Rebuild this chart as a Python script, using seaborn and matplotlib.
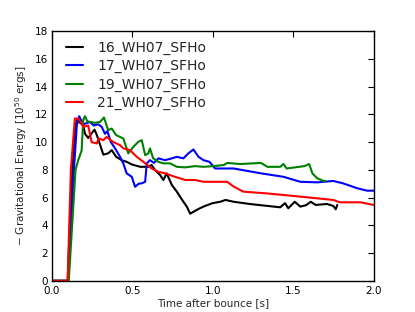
import matplotlib
matplotlib.use("Agg")
import matplotlib.pyplot as plt
import seaborn as sns
import pandas as pd

labels = ["16_WH07_SFHo", "17_WH07_SFHo", "19_WH07_SFHo", "21_WH07_SFHo"]
colors = ["#000000", "#0000ff", "#008000", "#ff0000"]

t16 = [0, 0.098, 0.127, 0.145, 0.155, 0.175, 0.195, 0.206, 0.226, 0.245, 0.265, 0.28, 0.30, 0.32,
       0.35, 0.372, 0.40, 0.434, 0.465, 0.497, 0.55, 0.60, 0.62, 0.642, 0.673, 0.693, 0.714, 0.746,
       0.777, 0.797, 0.818, 0.839, 0.86, 0.89, 0.92, 0.953, 1.0, 1.047, 1.08, 1.13, 1.23, 1.34,
       1.42, 1.45, 1.47, 1.51, 1.545, 1.58, 1.61, 1.64, 1.71, 1.75, 1.765, 1.775]
e16 = [0, 0, 8.0, 11.0, 11.6, 11.4, 11.2, 10.6, 10.3, 10.6, 10.9, 10.5, 9.8, 9.1,
       9.19, 9.42, 8.94, 8.7, 8.58, 8.39, 8.22, 8.22, 8.35, 7.98, 7.63, 7.27, 7.75, 6.91,
       6.43, 6.07, 5.7, 5.35, 4.84, 5.04, 5.23, 5.4, 5.6, 5.7, 5.83, 5.7, 5.54, 5.4,
       5.3, 5.6, 5.23, 5.7, 5.35, 5.45, 5.7, 5.47, 5.54, 5.4, 5.16, 5.47]

t17 = [0, 0.10, 0.137, 0.155, 0.17, 0.185, 0.2, 0.237, 0.26, 0.288, 0.31, 0.33, 0.345, 0.366,
       0.393, 0.424, 0.444, 0.465, 0.497, 0.517, 0.54, 0.559, 0.58, 0.59, 0.61, 0.635, 0.662,
       0.704, 0.746, 0.777, 0.818, 0.849, 0.88, 0.912, 0.943, 0.98, 1.015, 1.13, 1.3, 1.44,
       1.545, 1.65, 1.69, 1.75, 1.81, 1.9, 1.96, 2.0]
e17 = [0, 0, 8.0, 11.2, 11.87, 11.5, 11.3, 11.46, 11.2, 11.29, 11.1, 10.6, 10.8, 10.02,
       9.55, 8.94, 8.47, 7.75, 7.5, 6.78, 7.0, 7.03, 7.14, 8.47, 8.7, 8.5, 8.83,
       8.7, 8.83, 8.94, 8.83, 9.19, 9.47, 8.94, 8.7, 8.58, 8.1, 8.1, 7.75, 7.5,
       7.14, 7.1, 7.14, 7.2, 7.03, 6.67, 6.5, 6.5]

t19 = [0, 0.105, 0.147, 0.164, 0.185, 0.195, 0.206, 0.22, 0.237, 0.268, 0.30, 0.324, 0.35,
       0.372, 0.40, 0.444, 0.475, 0.507, 0.537, 0.559, 0.58, 0.60, 0.61, 0.63, 0.662, 0.693,
       0.735, 0.777, 0.829, 0.89, 0.943, 1.005, 1.07, 1.09, 1.17, 1.30, 1.34, 1.42, 1.44,
       1.46, 1.57, 1.60, 1.62, 1.65, 1.69, 1.70]
e19 = [0, 0, 8.0, 8.7, 9.4, 11.6, 11.87, 11.5, 11.46, 11.39, 11.46, 11.78, 10.86,
       10.98, 10.5, 10.27, 9.19, 9.66, 10.02, 10.14, 9.06, 9.19, 9.55, 8.83, 8.58, 8.47,
       8.47, 8.22, 8.18, 8.27, 8.22, 8.27, 8.35, 8.5, 8.42, 8.5, 8.22, 8.22, 8.42,
       8.1, 8.27, 8.42, 7.75, 7.39, 7.2, 7.2]

t21 = [0, 0.098, 0.118, 0.143, 0.164, 0.185, 0.195, 0.226, 0.247, 0.28, 0.29, 0.32, 0.34,
       0.38, 0.424, 0.444, 0.486, 0.528, 0.569, 0.62, 0.662, 0.704, 0.766, 0.829, 0.89,
       0.943, 1.09, 1.13, 1.19, 1.34, 1.545, 1.75, 1.79, 1.92, 2.0]
e21 = [0, 0, 8.0, 11.7, 11.7, 11.35, 11.1, 11.2, 10.0, 9.9, 10.27, 10.14, 10.38,
       10.02, 9.78, 9.55, 9.42, 8.94, 8.58, 8.1, 7.86, 7.75, 7.5, 7.27, 7.27,
       7.14, 7.14, 6.8, 6.43, 6.3, 6.07, 5.83, 5.66, 5.66, 5.47]

xticks = [0.0, 0.5, 1.0, 1.5, 2.0]
yticks = [0, 2, 4, 6, 8, 10, 12, 14, 16, 18]

sns.set_style("white")
plt.rcParams["font.family"] = ["DejaVu Sans"]
plt.rcParams["mathtext.fontset"] = "dejavusans"

fig = plt.figure(figsize=(4.15, 3.12), dpi=100)
ax = fig.add_axes([0.125, 0.1, 0.775, 0.8])

series = [(t16, e16), (t17, e17), (t19, e19), (t21, e21)]
frames = []
for lab, (t, e) in zip(labels, series):
    frames.append(pd.DataFrame({"t": t, "E": e, "model": lab}))
df = pd.concat(frames, ignore_index=True)

sns.lineplot(data=df, x="t", y="E", hue="model", hue_order=labels,
             palette=colors, estimator=None, sort=False, linewidth=1.5, ax=ax)

ax.set_xlim(0, 2.0)
ax.set_ylim(0, 18)
ax.set_xticks(xticks)
ax.set_xticklabels([f"{v:.1f}" for v in xticks])
ax.set_yticks(yticks)
ax.set_yticklabels([str(v) for v in yticks])
ax.tick_params(direction="in", length=4, width=0.8, top=True, right=True,
               labelsize=7.5, colors="black")
ax.tick_params(axis="x", pad=3.5)
ax.tick_params(axis="y", pad=3)
for sp in ax.spines.values():
    sp.set_visible(True)
    sp.set_color("black")
    sp.set_linewidth(1.0)

ax.set_xlabel("Time after bounce [s]", fontsize=7.5, labelpad=2)
ax.set_ylabel(r"$-$ Gravitational Energy [$10^{50}$ ergs]", fontsize=7.5, labelpad=4)

leg = ax.legend(loc="upper left", frameon=False, fontsize=10, handlelength=1.2,
                handletextpad=1.0, labelspacing=0.3, borderaxespad=0.3,
                bbox_to_anchor=(0.015, 1.0))
for line in leg.get_lines():
    line.set_linewidth(1.5)

fig.savefig("out.png", dpi=100)
